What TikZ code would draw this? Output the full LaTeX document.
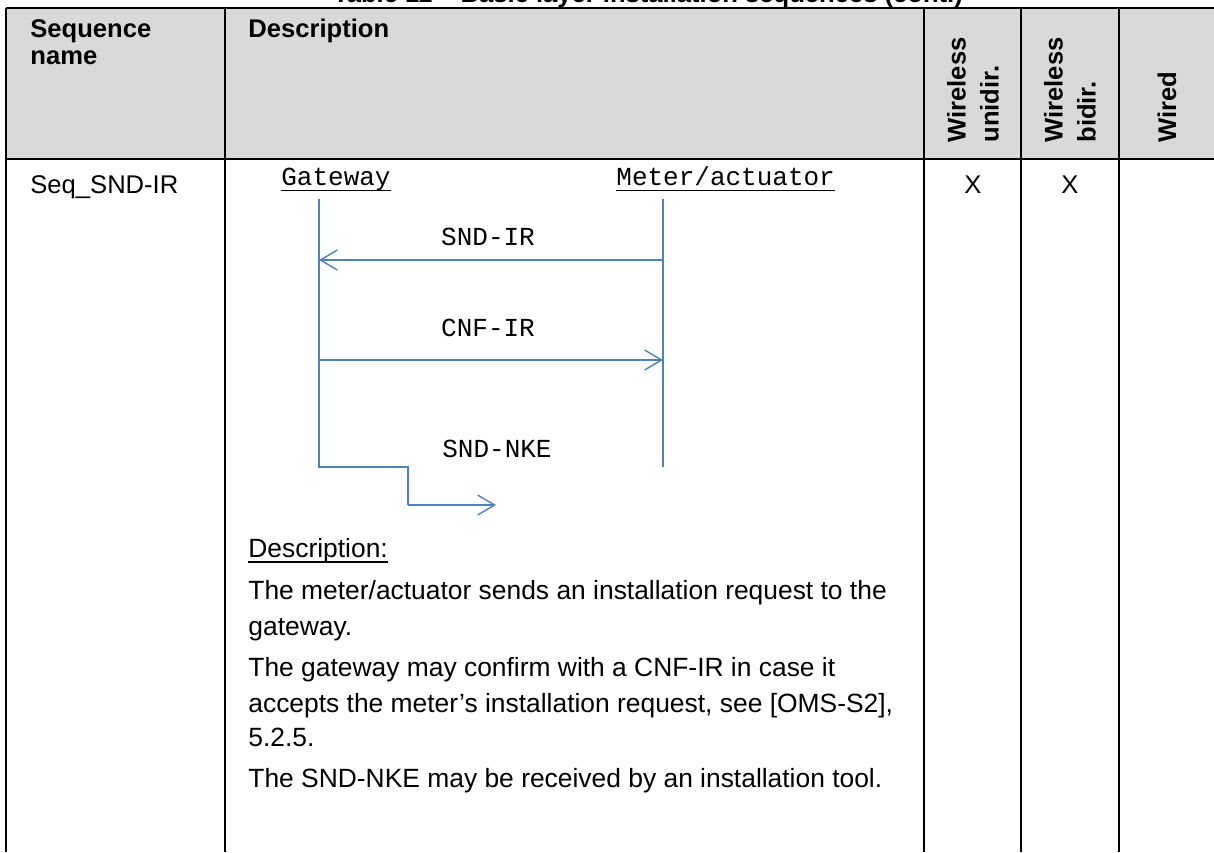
\documentclass[tikz,border=0pt]{standalone}
\usepackage{fontspec}
\setmainfont{Liberation Sans}
\newfontfamily\seqmono{Liberation Mono}
\usepackage{xcolor}
\definecolor{headgray}{HTML}{D9D9D9}
\definecolor{seqblue}{HTML}{4F81BD}
\usetikzlibrary{arrows.meta}
\tikzset{
  rule/.style={line width=1.3pt, black},
  hdr/.style={font=\bfseries\fontsize{12.8}{13.5}\selectfont, inner sep=0pt, align=left, anchor=base west},
  vhdr/.style={font=\bfseries\fontsize{12.8}{16.5}\selectfont, inner sep=0pt, align=left, rotate=90, anchor=west},
  txt/.style={font=\fontsize{12.8}{17.5}\selectfont, inner sep=0pt, anchor=base west},
  desc/.style={font=\fontsize{13.2}{17.5}\selectfont, inner sep=0pt, anchor=base west},
  actor/.style={font=\seqmono\fontsize{13}{15}\selectfont, inner sep=0pt, anchor=base},
  life/.style={seqblue, line width=0.7pt},
  msg/.style={life, -{Straight Barb[length=8.5pt, width=10pt, line width=0.7pt]}},
}

\begin{document}
\begin{tikzpicture}[x=0.5pt, y=-0.5pt]
	\useasboundingbox (0,0) rectangle (1214,852);
	
	% table frame
	\fill[headgray] (6,8) rectangle (1218,159);
	\node[font=\bfseries\fontsize{12.8}{14}\selectfont, inner sep=0pt, anchor=base] (title) at (648,2) {Table 11 -- Basic layer installation sequences (cont.)};
	\draw[rule] (6,8) -- (1218,8);
	\draw[rule] (6,159) -- (1218,159);
	\foreach \xc in {6,225,924,1021,1119,1216}
		\draw[rule] (\xc,8) -- (\xc,852);
	
	% header
	\node[hdr] (hname) at (30,64) {Sequence\\name};
	\node[hdr] (hdesc) at (248,37) {Description};
	\node[vhdr] (huni) at (973,143) {Wireless\\unidir.};
	\node[vhdr] (hbi) at (1070,143) {Wireless\\bidir.};
	\node[vhdr] (hwired) at (1167,143) {Wired};
	
	% row
	\node[txt] (seqname) at (30,193) {Seq\_SND-IR};
	\node[txt, anchor=base] (xuni) at (973,193) {X};
	\node[txt, anchor=base] (xbi) at (1070,193) {X};
	
	% sequence chart
	\node[actor] (gw) at (336,185) {Gateway};
	\node[actor, anchor=base west] (mtr) at (616,185) {Meter/actuator};
	\draw[line width=0.6pt] ([yshift=-2.9pt]gw.base west) -- ([yshift=-2.9pt]gw.base east);
	\draw[line width=0.6pt] ([yshift=-2.9pt]mtr.base west) -- ([yshift=-2.9pt]mtr.base east);
	
	\coordinate (gwtop) at (319,199);
	\coordinate (gwbot) at (319,467);
	\coordinate (mtrtop) at (663,199);
	\coordinate (mtrbot) at (663,467);
	\coordinate (ir1) at (663,260);
	\coordinate (ir2) at (319,260);
	\coordinate (cnf1) at (319,360);
	\coordinate (cnf2) at (663,360);
	\coordinate (nke1) at (408,467);
	\coordinate (nke2) at (408,505);
	\coordinate (nke3) at (496,505);
	
	\draw[life] (mtrtop) -- (mtrbot);
	\draw[life] (gwtop) -- (gwbot) -- (nke1) -- (nke2);
	\draw[msg] (nke2) -- (nke3);
	\draw[msg] (ir1) -- (ir2);
	\draw[msg] (cnf1) -- (cnf2);
	
	\node[actor] (lir) at (488,245) {SND-IR};
	\node[actor] (lcnf) at (488,336) {CNF-IR};
	\node[actor] (lnke) at (497,457) {SND-NKE};
	
	% description text
	\node[desc] (d0) at (248,557) {Description:};
	\draw[line width=0.6pt] ([yshift=-2.5pt]d0.base west) -- ([yshift=-2.5pt]d0.base east);
	\node[desc] (d1a) at (248,599) {The meter/actuator sends an installation request to the};
	\node[desc] (d1b) at (248,635) {gateway.};
	\node[desc] (d2a) at (248,676) {The gateway may confirm with a CNF-IR in case it};
	\node[desc] (d2b) at (248,712) {accepts the meter’s installation request, see [OMS-S2],};
	\node[desc] (d2c) at (248,746) {5.2.5.};
	\node[desc] (d3) at (248,787) {The SND-NKE may be received by an installation tool.};
\end{tikzpicture}
\end{document}
